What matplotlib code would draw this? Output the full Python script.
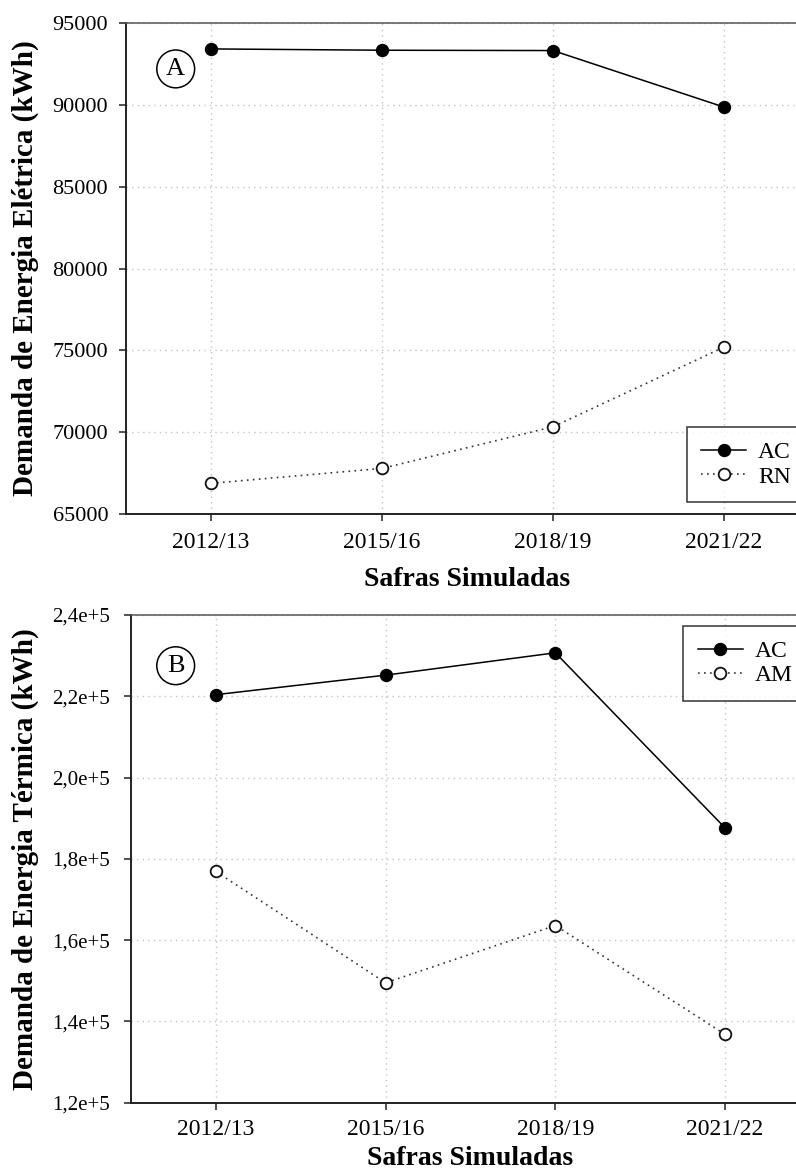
import matplotlib
matplotlib.use('Agg')
import matplotlib.pyplot as plt

plt.rcParams['font.family'] = ['Liberation Serif', 'DejaVu Serif']

# ----------------------------------------------------------------
# Data
# ----------------------------------------------------------------
safras = ['2012/13', '2015/16', '2018/19', '2021/22']

eletrica_ac = [93400, 93320, 93300, 89850]
eletrica_rn = [66890, 67800, 70340, 75200]

termica_ac = [220400, 225200, 230700, 187600]
termica_am = [176900, 149500, 163600, 136800]

yticks_a = [65000, 70000, 75000, 80000, 85000, 90000, 95000]
yticks_b = [120000, 140000, 160000, 180000, 200000, 220000, 240000]
ylabels_b = ['1,2e+5', '1,4e+5', '1,6e+5', '1,8e+5', '2,0e+5', '2,2e+5', '2,4e+5']

W, H = 796, 1174
fig = plt.figure(figsize=(W / 100, H / 100), dpi=100)
axA = fig.add_axes([125.5 / W, (H - 514.3) / H, 684 / W, 491.6 / H])
axB = fig.add_axes([131 / W, (H - 1102.7) / H, 679 / W, 487.7 / H])

dotted = (0, (1, 2.6))


def style_axis(ax, yticks, ylabels, ysize, ypad, xpad):
    x = list(range(len(safras)))
    ax.set_xlim(-0.5, 3.5)
    ax.set_xticks(x)
    ax.set_xticklabels(safras, fontsize=17)
    ax.set_yticks(yticks)
    ax.set_yticklabels(ylabels, fontsize=ysize)
    ax.set_ylim(yticks[0], yticks[-1])
    ax.grid(True, color='#c4c4c4', linestyle=(0, (1, 3)), linewidth=1.0)
    ax.set_axisbelow(True)
    ax.tick_params(direction='out', length=5, width=1.1, color='#222222')
    ax.tick_params(axis='y', pad=ypad)
    ax.tick_params(axis='x', pad=xpad)
    for side in ['left', 'bottom']:
        ax.spines[side].set_linewidth(1.4)
        ax.spines[side].set_color('#222222')
    ax.spines['top'].set_linewidth(1.1)
    ax.spines['top'].set_color('#555555')
    ax.spines['right'].set_visible(False)


def plot_pair(ax, y1, y2, lab1, lab2):
    x = list(range(len(safras)))
    ax.plot(x, y1, color='black', linewidth=1.1, marker='o', markersize=8.6,
            markerfacecolor='black', markeredgecolor='black', zorder=4, label=lab1)
    ax.plot(x, y2, color='#333333', linewidth=1.2, linestyle=dotted, marker='o',
            markersize=8.4, markerfacecolor='white', markeredgecolor='#111111',
            markeredgewidth=1.3, zorder=4, label=lab2)


def add_legend(ax, loc, anchor):
    leg = ax.legend(loc=loc, bbox_to_anchor=anchor, borderaxespad=0,
                    fontsize=17, frameon=True, fancybox=False, handlelength=1.9,
                    handletextpad=0.5, labelspacing=0.12, borderpad=0.62)
    leg.get_frame().set_edgecolor('black')
    leg.get_frame().set_linewidth(1.1)
    return leg


def panel_tag(ax, x, y, letter):
    ax.text(x, y, letter, transform=ax.transAxes, fontsize=19, ha='center', va='center',
            bbox=dict(boxstyle='circle,pad=0.3', fc='white', ec='black', lw=1.1), zorder=6)


# ---- Panel A
plot_pair(axA, eletrica_ac, eletrica_rn, 'AC', 'RN')
style_axis(axA, yticks_a, [str(v) for v in yticks_a], 16, ypad=7.5, xpad=8)
axA.set_xlabel('Safras Simuladas', fontsize=20, fontweight='bold', labelpad=10)
axA.set_ylabel('Demanda de Energia Elétrica (kWh)', fontsize=21, fontweight='bold')
axA.yaxis.set_label_coords((39 - 125.5) / 684, 0.5)
panel_tag(axA, 0.0734, 0.906, 'A')
add_legend(axA, 'lower left', (0.8205, 0.0244))

# ---- Panel B
plot_pair(axB, termica_ac, termica_am, 'AC', 'AM')
style_axis(axB, yticks_b, ylabels_b, 15, ypad=10, xpad=7)
axB.set_xlabel('Safras Simuladas', fontsize=20, fontweight='bold', labelpad=4)
axB.set_ylabel('Demanda de Energia Térmica (kWh)', fontsize=21, fontweight='bold')
axB.yaxis.set_label_coords((39 - 131) / 679, 0.5)
panel_tag(axB, 0.0658, 0.896, 'B')
add_legend(axB, 'upper left', (0.813, 0.978))

fig.savefig('out.png', dpi=100)
